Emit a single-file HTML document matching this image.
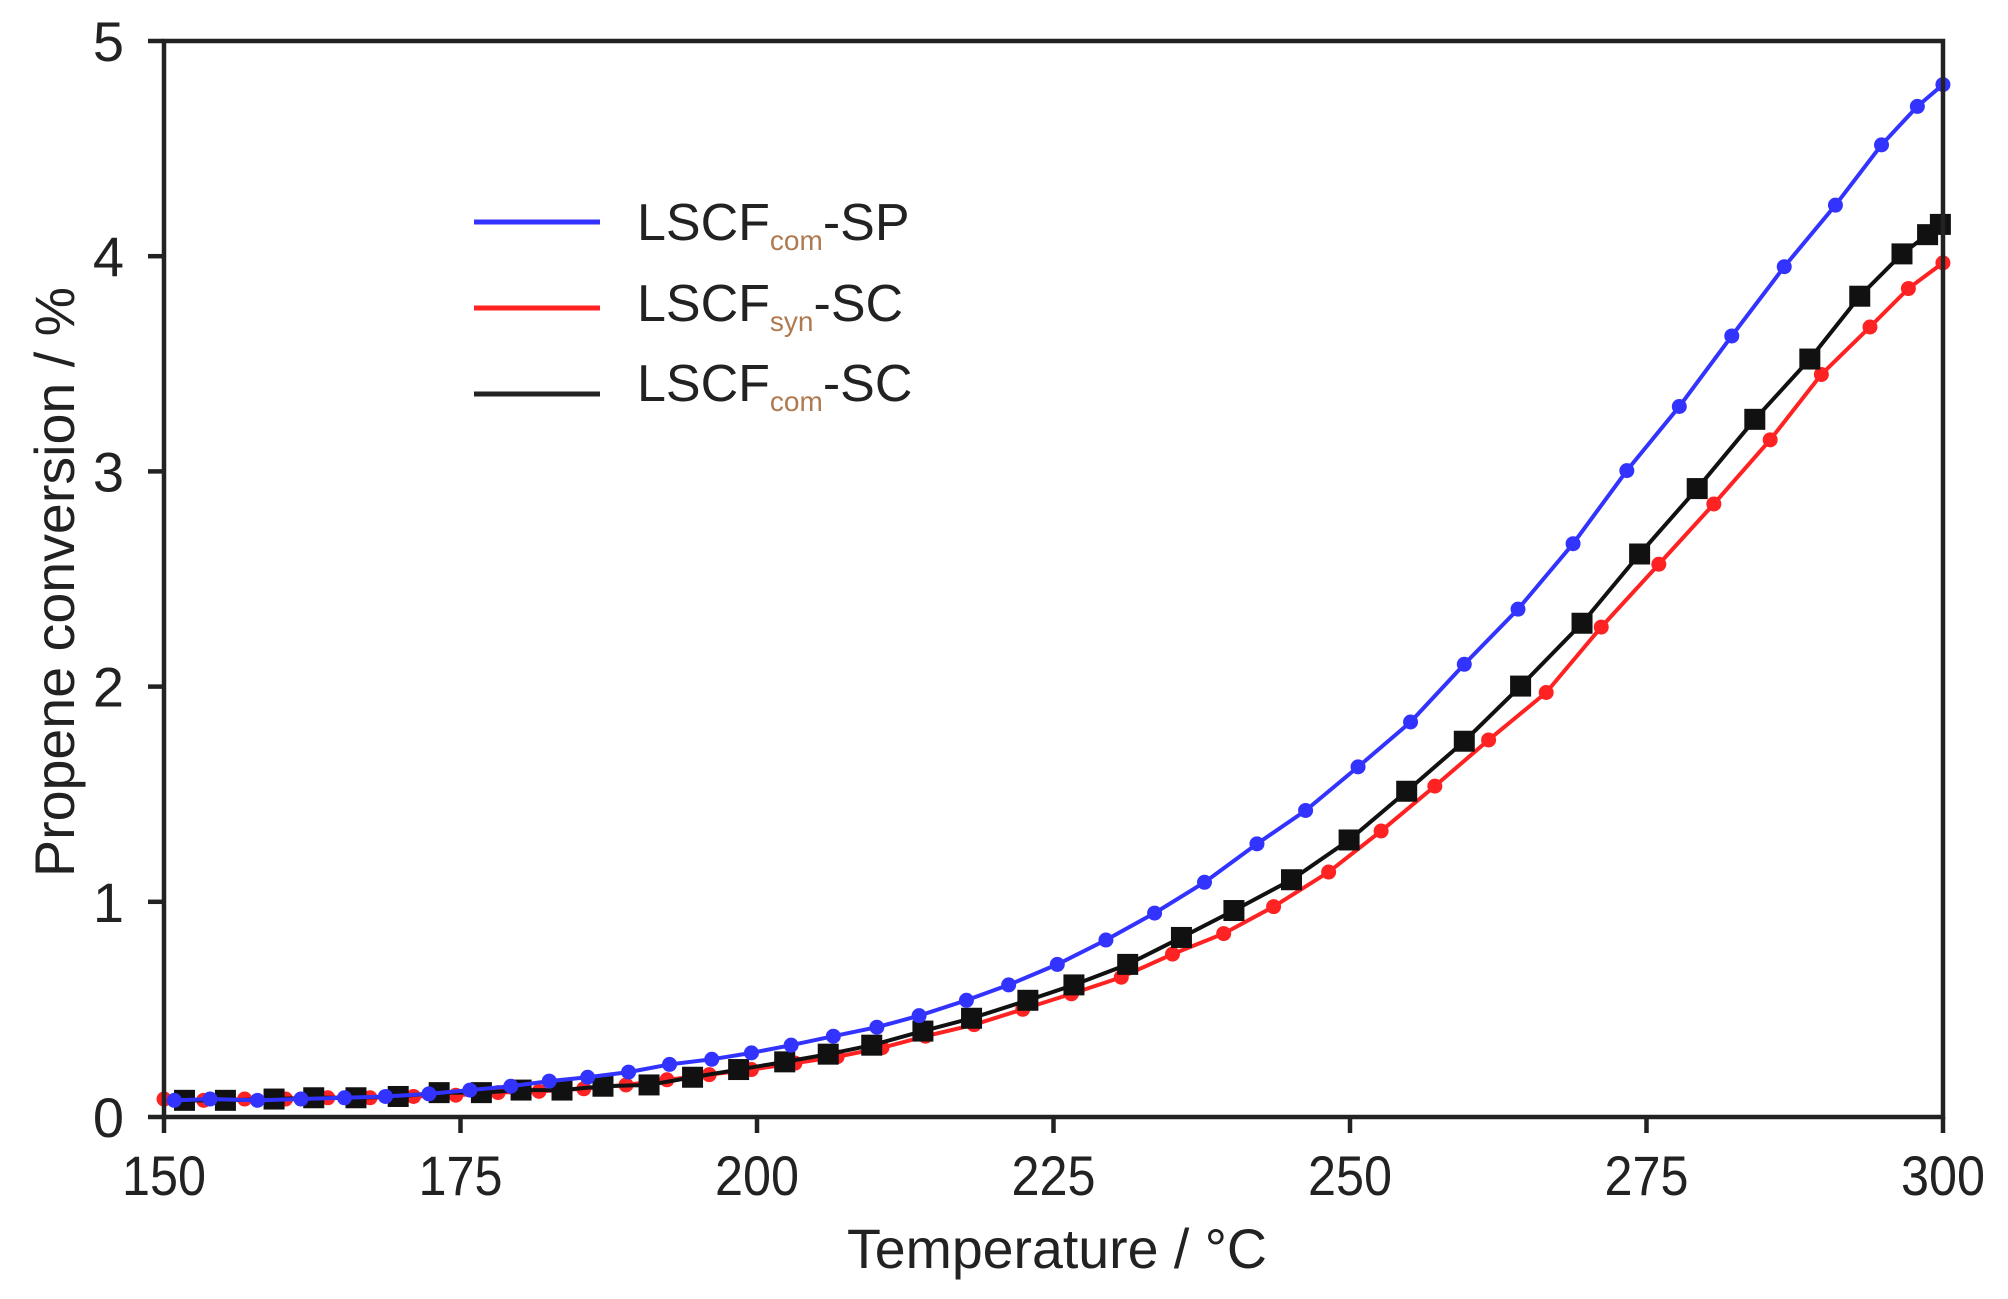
<!DOCTYPE html>
<html><head><meta charset="utf-8"><style>
html,body{margin:0;padding:0;background:#fff;}
svg{display:block;font-family:"Liberation Sans",Arial,sans-serif;}
</style></head><body>
<svg id="c" width="2008" height="1299" viewBox="0 0 2008 1299" xmlns="http://www.w3.org/2000/svg">
<rect width="2008" height="1299" fill="#fff"/>
<g id="data"></g>
<rect x="164" y="41" width="1779" height="1076" fill="none" stroke="#222" stroke-width="4.5"/>
<g stroke="#222" stroke-width="4.5" id="ticks"></g>
<g font-size="56" fill="#222" id="labels"></g>
<text x="1057" y="1268" font-size="56" fill="#222" text-anchor="middle" textLength="420" lengthAdjust="spacingAndGlyphs">Temperature / °C</text>
<text transform="translate(74,582) rotate(-90)" font-size="56" fill="#222" text-anchor="middle" textLength="590" lengthAdjust="spacingAndGlyphs">Propene conversion / %</text>
<g stroke-width="5">
<line x1="474" y1="222" x2="600" y2="222" stroke="#3333ff"/>
<line x1="474" y1="308" x2="600" y2="308" stroke="#ff2222"/>
<line x1="474" y1="394" x2="600" y2="394" stroke="#222"/>
</g>
<g font-size="52" fill="#222">
<text x="637" y="240">LSCF<tspan font-size="28" fill="#b07a50" dy="10">com</tspan><tspan dy="-10">-SP</tspan></text>
<text x="637" y="321">LSCF<tspan font-size="28" fill="#b07a50" dy="10">syn</tspan><tspan dy="-10">-SC</tspan></text>
<text x="637" y="401">LSCF<tspan font-size="28" fill="#b07a50" dy="10">com</tspan><tspan dy="-10">-SC</tspan></text>
</g>
</svg>
<script>
const X0=164,X1=1943,Y0=1117,Y1=41;
const px=t=>X0+(t-150)*(X1-X0)/150, py=v=>Y0-v*(Y0-Y1)/5;
const NS="http://www.w3.org/2000/svg";
function el(p,n,a){const e=document.createElementNS(NS,n);for(const k in a)e.setAttribute(k,a[k]);p.appendChild(e);return e;}
const ticks=document.getElementById('ticks'),labels=document.getElementById('labels');
for(let i=0;i<=6;i++){const x=px(150+25*i);el(ticks,'line',{x1:x,y1:Y0,x2:x,y2:Y0+16});
 const t=el(labels,'text',{x:x,y:1195,'text-anchor':'middle',textLength:84,lengthAdjust:'spacingAndGlyphs'});t.textContent=150+25*i;}
for(let i=0;i<=5;i++){const y=py(i);el(ticks,'line',{x1:X0-16,y1:y,x2:X0,y2:y});
 const t=el(labels,'text',{x:124,y:y+20,'text-anchor':'end'});t.textContent=i;}
const conv=a=>a.map(([xd,yd])=>[150+(xd-127)/9.267,(871-yd)/167.8]).sort((p,q)=>p[0]-q[0]);
const blue=conv([[1517,66],[1497,83],[1469,113],[1433,160],[1393,208],[1352,262],[1311,317],[1270,367],[1228,424],[1185,475],[1143,518],[1101,563],[1060,598],[1019,632],[981,658],[940,688],[901,712],[863,733],[825,752],[787,768],[754,780],[717,792],[684,801],[650,808],[617,815],[586,821],[555,826],[522,830],[490,836],[458,840],[428,843],[398,847],[366,850],[334,853],[300,855],[268,856],[234,857],[200,858],[163,857],[135,858]]);
const black=conv([[1515,175],[1505,183],[1485,198],[1452,231],[1413,280],[1370,327],[1325,381],[1280,432],[1235,486],[1187,535],[1143,578],[1098,617],[1053,655],[1008,686],[963,710],[922,731],[880,752],[838,768],[802,780],[758,794],[720,804],[680,815],[646,822],[612,828],[576,834],[540,840],[506,846],[470,847],[438,850],[406,850],[375,852],[342,852],[310,855],[277,856],[244,856],[213,857],[175,858],[143,858]]);
const red=conv([[1517,205],[1490,225],[1460,255],[1422,292],[1382,343],[1338,393],[1295,440],[1250,489],[1207,540],[1162,577],[1120,613],[1078,648],[1037,680],[994,707],[955,728],[915,744],[875,762],[836,775],[798,787],[760,799],[722,808],[688,817],[653,824],[620,829],[586,834],[553,838],[520,842],[488,846],[455,849],[420,851],[388,852],[355,854],[322,855],[288,856],[255,856],[222,857],[190,857],[158,858],[127,857]]);
const g=document.getElementById('data');
function series(d,col,mk){el(g,'polyline',{points:d.map(p=>px(p[0])+','+py(p[1])).join(' '),fill:'none',stroke:col,'stroke-width':4});
 d.forEach(p=>{const x=px(p[0]),y=py(p[1]);if(mk=='s')el(g,'rect',{x:x-10.5,y:y-10.5,width:21,height:21,fill:col});else el(g,'circle',{cx:x,cy:y,r:7.5,fill:col});});}
series(red,'#ff2222','c');series(black,'#111','s');series(blue,'#3333ff','c');
</script>
</body></html>
